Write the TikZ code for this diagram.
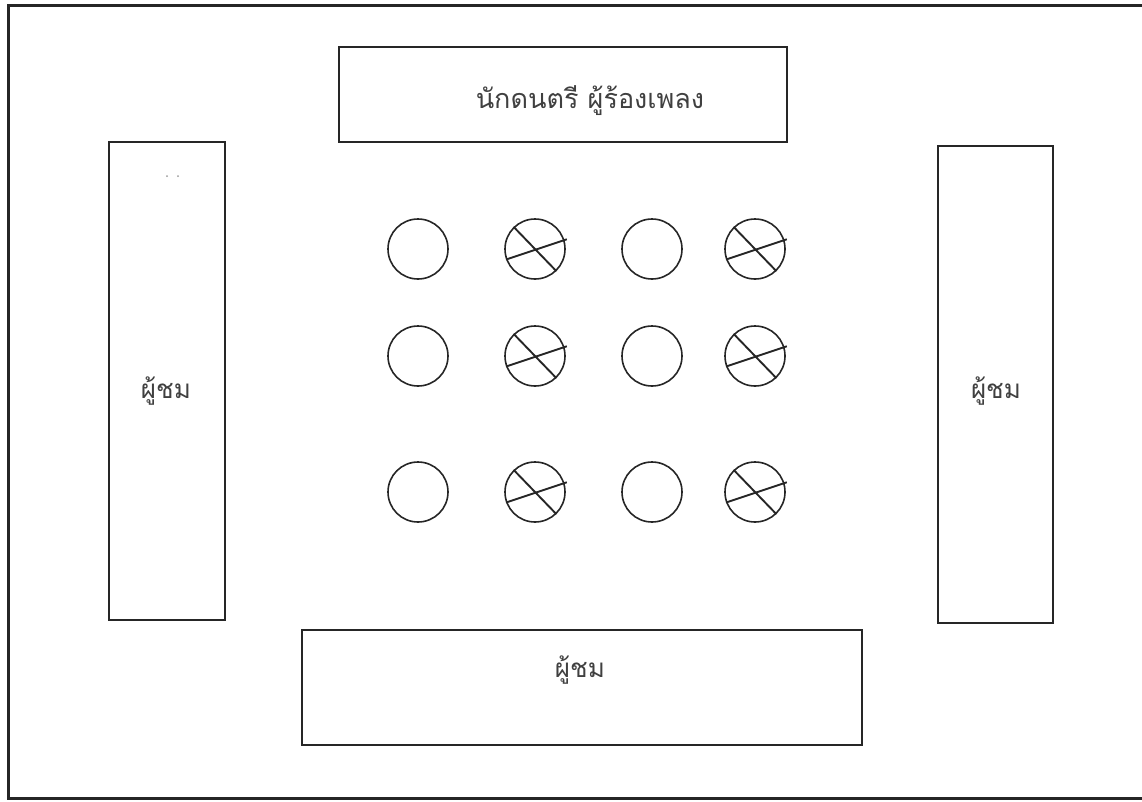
\documentclass[tikz,border=0pt]{standalone}
\usepackage{fontspec}
\usetikzlibrary{calc}
\newfontfamily\thaifont[Script=Thai]{Loma}
\tikzset{
  box/.style={draw=black!85, line width=1.7pt},
  seat/.style={draw=black!85, line width=1.6pt, circle, minimum size=60pt, inner sep=0pt},
  cross/.style={draw=black!85, line width=1.9pt},
  lbl/.style={font=\thaifont\fontsize{26}{30}\selectfont, text=black!75, anchor=base, inner sep=0pt},
  toplbl/.style={font=\thaifont\fontsize{27}{32}\selectfont, text=black!75, anchor=base, inner sep=0pt},
}
\begin{document}
\begin{tikzpicture}[x=1pt,y=-1pt]
\useasboundingbox (0,0) rectangle (1142,801);
% outer frame
\coordinate (tr) at (1142,5);
\coordinate (tl) at (8,5);
\coordinate (bl) at (8,798);
\coordinate (br) at (1142,798);
\draw[line width=3pt, draw=black!85] (tr) -- (tl) -- (bl) -- (br);
% boxes
\node[box, minimum width=448pt, minimum height=95pt, anchor=north west] (stage) at (338,46) {};
\node[box, minimum width=116pt, minimum height=478pt, anchor=north west] (left) at (108,141) {};
\node[box, minimum width=115pt, minimum height=477pt, anchor=north west] (right) at (937,145) {};
\node[box, minimum width=560pt, minimum height=115pt, anchor=north west] (bottom) at (301,629) {};
% labels
\node[toplbl] (tstage) at (590,108) {นักดนตรี ผู้ร้องเพลง};
\node[lbl] (tleft) at (166,398) {ผู้ชม};
\node[lbl] (tright) at (996,398) {ผู้ชม};
\node[lbl] (tbottom) at (580,677) {ผู้ชม};
% scan dots
\fill[black!40] (167,176) circle (1pt);
\fill[black!40] (178,176) circle (1pt);
% seats
\foreach \r/\y in {1/249,2/356,3/492}{
  \node[seat] (a\r) at (418,\y) {};
  \node[seat] (b\r) at (535,\y) {};
  \node[seat] (c\r) at (652,\y) {};
  \node[seat] (d\r) at (755,\y) {};
  \foreach \n in {b,d}{
    \draw[cross] (\n\r.134) -- (\n\r.-46);
    \draw[cross] (\n\r.200) -- ($(\n\r.center)!1.08!(\n\r.17)$);
  }
}
\end{tikzpicture}
\end{document}
